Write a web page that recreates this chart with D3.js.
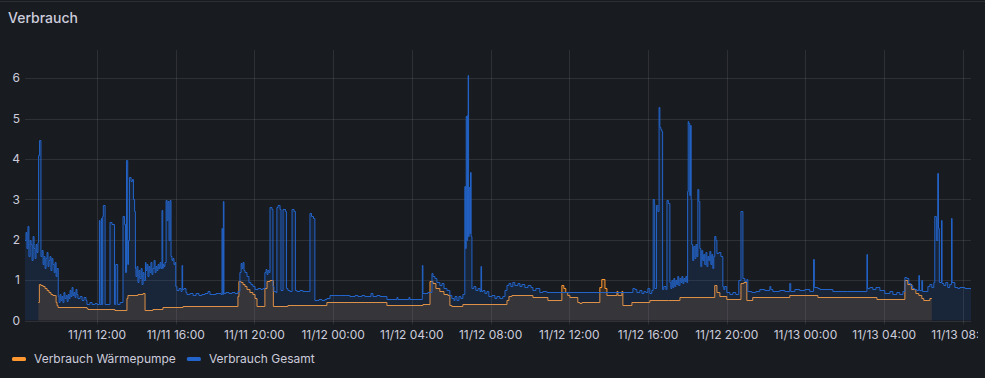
<!DOCTYPE html>
<html>
<head>
<meta charset="utf-8">
<script src="https://cdn.jsdelivr.net/npm/d3@7"></script>
<style>
  html, body { margin: 0; padding: 0; background: #181b1f; }
  svg { display: block; font-family: Inter, "Noto Sans", sans-serif; }
</style>
</head>
<body>
<svg id="chart"></svg>
<script>
// time values are hours since 11/11 00:00, power in kW
const baseDay = new Date(2023, 10, 11);
const timeRange = [8.34, 56.41];
const yTicks = [0, 1, 2, 3, 4, 5, 6];
const seriesNames = ["Verbrauch Wärmepumpe", "Verbrauch Gesamt"];

const waermepumpe = [
  [9.02,0.47],[9.07,0.9],[9.15,0.88],[9.26,0.85],[9.36,0.8],[9.46,0.75],[9.56,0.7],[9.66,0.66],[9.76,0.64],[9.87,0.62],
  [9.92,0.45],[9.97,0.38],[10.02,0.33],[11.49,0.3],[11.54,0.29],[12.91,0.25],[13.52,0.55],[13.57,0.62],[13.83,0.64],
  [14.08,0.66],[14.34,0.68],[14.44,0.25],[14.84,0.28],[15.35,0.33],[16.37,0.37],[19.16,0.6],[19.21,0.97],[19.32,0.95],
  [19.42,0.9],[19.52,0.85],[19.62,0.77],[19.77,0.7],[19.92,0.65],[20.03,0.55],[20.13,0.35],[20.53,0.8],[20.64,0.97],
  [20.79,1.0],[20.96,0.35],[21.70,0.38],[23.68,0.45],[26.73,0.38],[28.56,0.42],[28.92,0.97],[29.07,0.92],[29.22,0.8],
  [29.42,0.72],[29.63,0.66],[29.83,0.64],[29.93,0.39],[30.03,0.37],[30.59,0.4],[32.83,0.52],[32.93,0.6],[33.08,0.64],
  [34.15,0.58],[34.91,0.52],[35.62,0.88],[35.72,0.8],[35.82,0.7],[35.92,0.62],[36.03,0.58],[36.43,0.47],[36.54,0.43],
  [36.64,0.45],[37.55,0.82],[37.65,1.04],[37.81,0.8],[37.91,0.64],[38.42,0.72],[38.47,0.64],[38.67,0.72],[38.72,0.39],
  [39.18,0.45],[40.09,0.5],[41.03,0.52],[41.62,0.57],[43.39,0.89],[43.50,0.7],[43.65,0.6],[44.00,0.53],[44.72,0.92],
  [44.87,0.96],[45.02,0.5],[45.32,0.57],[47.20,0.64],[48.63,0.59],[51.63,0.54],[53.05,1.0],[53.20,0.9],[53.40,0.77],
  [53.61,0.69],[53.76,0.63],[53.91,0.56],[54.01,0.51],[54.32,0.56],[54.42,0.56]
];

const gesamt = [
  [8.34,2.0],[8.39,2.2],[8.44,1.8],[8.49,2.35],[8.54,1.6],[8.60,2.0],[8.65,1.9],[8.70,1.5],[8.75,2.1],[8.80,1.8],
  [8.85,1.55],[8.90,1.9],[8.95,1.7],[9.00,1.95],[9.03,4.1],[9.08,4.47],[9.15,1.6],
  [9.21,1.75],[9.26,1.4],[9.31,1.6],[9.36,1.3],[9.41,1.55],[9.46,1.7],[9.51,1.35],[9.56,1.5],[9.61,1.6],[9.66,1.25],
  [9.71,1.55],[9.76,1.4],[9.82,1.2],[9.87,1.45],[9.92,1.1],[9.97,1.3],
  [10.03,0.6],[10.07,0.45],[10.12,0.65],[10.17,0.5],[10.22,0.6],[10.27,0.45],[10.32,0.7],[10.37,0.55],[10.43,0.62],
  [10.48,0.48],[10.53,0.66],[10.58,0.55],[10.63,0.75],[10.68,0.6],[10.73,0.82],[10.78,0.62],[10.83,0.7],[10.88,0.58],
  [10.93,0.78],[10.98,0.65],[11.03,0.55],[11.14,0.6],[11.24,0.52],[11.34,0.58],[11.44,0.5],[11.49,0.42],[11.64,0.45],
  [11.75,0.4],[11.90,0.43],[12.00,0.4],
  [12.12,2.5],[12.15,0.42],[12.22,2.55],[12.25,0.42],[12.29,2.6],[12.32,2.85],[12.41,0.42],[12.66,2.45],[12.76,2.38],
  [12.89,0.42],[12.95,1.4],[13.05,0.42],[13.17,0.45],
  [13.32,2.6],[13.40,2.4],[13.45,1.2],[13.50,3.98],[13.56,1.4],[13.60,2.0],[13.65,3.55],[13.73,3.45],[13.80,3.5],
  [13.85,3.0],[13.91,2.7],[13.95,1.3],
  [13.98,1.1],[14.03,1.35],[14.08,0.95],[14.13,1.25],[14.18,1.05],[14.24,1.3],[14.29,0.9],[14.34,1.2],[14.39,1.0],
  [14.46,1.45],[14.49,1.25],[14.54,1.4],[14.59,1.1],[14.64,1.35],[14.69,1.2],[14.74,1.45],[14.79,1.15],[14.84,1.3],
  [14.90,1.5],[14.95,1.2],[15.00,1.35],[15.05,1.25],[15.10,1.4],[15.15,1.3],[15.20,1.45],[15.25,1.3],[15.30,2.74],
  [15.34,1.3],[15.36,1.4],[15.40,1.35],[15.45,1.45],[15.51,2.98],[15.56,2.5],[15.61,2.95],[15.66,2.0],[15.71,2.98],
  [15.76,1.6],[15.81,1.5],[15.86,1.55],[15.91,1.4],[15.96,1.45],
  [16.00,0.85],[16.06,0.75],[16.17,0.8],[16.27,0.72],[16.32,1.37],[16.35,0.78],[16.42,0.8],[16.52,0.7],[16.57,0.65],
  [16.72,0.68],[16.88,0.64],[17.03,0.67],[17.18,0.63],[17.33,0.66],[17.49,0.68],[17.64,0.72],[17.74,0.66],[17.89,0.65],
  [18.05,0.68],[18.20,0.67],[18.30,0.66],[18.35,2.3],[18.39,0.66],[18.42,2.96],[18.45,0.68],[18.55,0.7],[18.71,0.68],
  [18.86,0.7],[19.01,0.69],[19.16,0.72],
  [19.26,1.2],[19.32,1.42],[19.37,1.3],[19.42,1.45],[19.47,1.25],[19.52,1.2],[19.62,1.1],[19.72,0.95],[19.82,0.9],
  [19.92,0.85],[20.03,0.78],[20.18,0.8],[20.33,0.77],[20.43,0.8],
  [20.53,1.2],[20.59,1.27],[20.64,1.15],[20.69,1.25],[20.74,1.2],[20.79,2.8],[20.89,2.75],[20.94,0.85],[20.99,0.72],
  [21.09,0.7],[21.14,2.8],[21.20,2.85],[21.30,2.75],[21.35,0.75],[21.45,2.75],[21.58,2.7],[21.63,0.8],[21.70,0.76],
  [21.80,0.73],[21.91,2.75],[22.01,2.7],[22.08,0.75],[22.16,0.72],[22.31,0.75],[22.46,0.74],[22.62,0.73],[22.77,0.72],
  [22.82,2.67],[22.90,2.6],[23.00,2.53],[23.07,0.52],
  [23.28,0.53],[23.43,0.52],[23.58,0.53],[23.68,0.56],[23.84,0.64],[24.09,0.63],[24.34,0.64],[24.60,0.62],[24.85,0.6],
  [25.11,0.62],[25.26,0.6],[25.46,0.63],[25.61,0.6],[25.92,0.67],[26.02,0.6],[26.22,0.62],[26.38,0.6],[26.53,0.61],
  [26.73,0.53],[27.24,0.58],[27.29,0.53],[27.85,0.58],[27.90,0.53],
  [28.53,1.38],[28.56,0.67],[28.81,0.7],[29.02,1.18],[29.07,1.1],[29.17,1.05],[29.27,0.95],[29.42,0.88],[29.53,0.93],
  [29.63,0.8],[29.78,0.75],[29.93,0.62],[30.03,0.55],[30.14,0.5],[30.19,0.6],[30.29,0.52],[30.39,0.6],[30.49,0.55],
  [30.59,0.65],
  [30.69,3.33],[30.73,1.8],[30.76,5.07],[30.80,2.0],[30.83,5.1],[30.86,6.07],[30.88,2.1],[30.91,3.3],[30.95,2.17],
  [30.98,3.68],[31.01,2.1],[31.05,0.8],
  [31.15,0.85],[31.25,0.75],[31.36,0.8],[31.46,0.74],[31.51,1.34],[31.54,0.72],[31.61,0.75],[31.71,0.68],[31.81,0.72],
  [31.91,0.6],[32.07,0.63],[32.22,0.55],[32.32,0.6],[32.47,0.56],[32.62,0.6],
  [32.73,0.75],[32.83,0.88],[32.93,0.92],[33.03,0.85],[33.13,0.95],[33.23,0.88],[33.39,0.92],[33.49,0.85],[33.59,0.9],
  [33.74,0.83],[33.90,0.88],[34.05,0.82],[34.15,0.75],[34.30,0.8],[34.50,0.7],[34.66,0.72],[34.86,0.71],
  [39.23,0.8],[39.33,0.78],[39.43,0.7],[39.58,0.75],[39.69,0.68],[39.79,0.74],[39.89,0.7],[39.99,0.8],[40.09,0.68],
  [40.19,0.75],
  [40.26,3.0],[40.32,2.9],[40.34,0.8],[40.43,2.85],[40.50,2.7],[40.56,5.28],[40.60,4.8],[40.65,4.75],[40.70,4.7],
  [40.74,0.78],[40.80,0.85],[40.91,0.78],[40.96,2.98],[41.03,2.9],[41.11,0.95],
  [41.16,0.8],[41.21,1.0],[41.26,0.82],[41.31,1.05],[41.36,0.85],[41.41,1.0],[41.46,0.9],[41.51,1.1],[41.56,0.88],
  [41.62,1.05],[41.67,0.95],[41.72,1.1],[41.77,0.92],[41.82,1.05],[41.87,0.98],[41.92,1.1],[41.97,0.96],
  [42.01,3.2],[42.04,4.95],[42.07,4.88],[42.12,3.1],[42.16,4.85],[42.19,3.0],[42.22,1.9],[42.27,1.5],[42.32,1.85],
  [42.38,1.55],[42.43,1.9],[42.48,1.6],[42.53,3.26],[42.58,2.96],[42.63,1.8],[42.68,1.35],[42.73,1.75],[42.78,1.5],
  [42.83,1.65],[42.88,1.4],[42.94,1.7],[42.99,1.35],[43.04,1.6],[43.09,1.5],[43.14,1.72],[43.19,1.4],[43.24,1.65],
  [43.29,1.3],[43.34,1.6],[43.39,2.1],[43.45,2.0],[43.50,1.67],[43.60,1.7],[43.70,1.6],
  [43.80,0.85],[43.85,0.78],[43.90,0.85],[44.00,0.7],[44.16,0.66],[44.31,0.7],[44.46,0.66],[44.61,1.0],[44.72,2.71],
  [44.82,1.05],[44.92,0.98],[45.02,1.03],[45.07,0.72],[45.27,0.7],[45.48,0.72],[45.68,0.78],[45.93,0.76],[46.19,0.86],
  [46.24,0.78],[46.34,0.72],[46.69,0.75],[46.95,0.72],[47.20,0.92],[47.25,0.74],[47.46,0.78],[47.71,0.75],[47.97,0.77],
  [48.22,0.74],
  [48.41,1.52],[48.45,0.84],[48.63,0.8],[48.73,0.78],[49.39,0.72],[50.15,0.74],[51.12,1.64],[51.15,0.8],[51.27,0.84],
  [51.42,0.78],[51.58,0.82],[51.78,0.76],[52.03,0.68],[52.29,0.72],[52.44,0.66],[52.64,0.7],[52.79,0.66],[52.95,0.72],
  [53.05,1.08],[53.15,1.05],[53.25,0.92],[53.35,0.88],[53.45,0.8],[53.55,0.78],[53.66,0.75],[53.76,1.12],[53.79,0.75],
  [53.91,1.0],[53.95,0.72],[54.12,0.74],[54.22,0.85],[54.32,0.9],[54.42,0.82],[54.52,0.95],
  [54.57,2.58],[54.65,2.0],[54.72,3.65],[54.76,2.3],[54.80,0.96],[54.91,2.5],[54.94,0.92],[55.03,0.88],[55.13,0.95],
  [55.23,0.84],[55.33,0.9],[55.42,2.54],[55.45,0.95],[55.59,0.84],[55.74,0.8],[55.84,0.82],[56.10,0.8],[56.41,0.8]
];

const colors = ["#FF9830", "#2364CA"];

const width = 985, height = 378;
const plot = {left: 25, right: 971, top: 50, bottom: 320.5};

const toDate = h => new Date(baseDay.getTime() + h * 3600e3);

const svg = d3.select("#chart")
  .attr("width", width)
  .attr("height", height);

// the x labels are cut where the plot canvas ends
svg.append("defs").append("clipPath")
  .attr("id", "xlabel-clip")
  .append("rect")
  .attr("x", 0).attr("y", 320)
  .attr("width", 978).attr("height", 30);

// panel border + title
svg.append("line")
  .attr("x1", 0).attr("x2", width)
  .attr("y1", 1.5).attr("y2", 1.5)
  .attr("stroke", "#2c2f35");

svg.append("text")
  .attr("x", 8).attr("y", 23)
  .attr("fill", "#ccccdc")
  .style("font-size", "14px")
  .style("font-weight", 500)
  .text("Verbrauch");

const x = d3.scaleTime()
  .domain(timeRange.map(toDate))
  .range([plot.left, plot.right]);

const y = d3.scaleLinear()
  .domain([0, 6.7])
  .range([plot.bottom, plot.top]);

const gridColor = "rgba(204,204,220,0.12)";
const xTicks = x.ticks(d3.timeHour.every(4));
const fmt = d3.timeFormat("%m/%d %H:%M");

// grid
svg.append("g").selectAll("line")
  .data(yTicks)
  .join("line")
  .attr("x1", plot.left).attr("x2", plot.right)
  .attr("y1", d => Math.round(y(d)) + 0.5)
  .attr("y2", d => Math.round(y(d)) + 0.5)
  .attr("stroke", gridColor);

svg.append("g").selectAll("line")
  .data(xTicks)
  .join("line")
  .attr("x1", d => Math.round(x(d)) + 0.5)
  .attr("x2", d => Math.round(x(d)) + 0.5)
  .attr("y1", plot.top).attr("y2", plot.bottom + 4)
  .attr("stroke", gridColor);

// axis labels
svg.append("g").selectAll("text")
  .data(yTicks)
  .join("text")
  .attr("x", 20)
  .attr("y", d => y(d))
  .attr("dy", "0.35em")
  .attr("text-anchor", "end")
  .attr("fill", "#ccccdc")
  .style("font-size", "12px")
  .text(d => d);

svg.append("g")
  .attr("clip-path", "url(#xlabel-clip)")
  .selectAll("text")
  .data(xTicks)
  .join("text")
  .attr("x", d => x(d))
  .attr("y", 339)
  .attr("text-anchor", "middle")
  .attr("fill", "#ccccdc")
  .style("font-size", "12px")
  .text(d => fmt(d));

// series: Wärmepumpe first, Gesamt drawn over it (flat steps snapped to pixel rows)
const px = d => x(toDate(d[0]));
const py = d => Math.round(y(d[1])) + 0.5;

const area = d3.area()
  .curve(d3.curveStepAfter)
  .x(px)
  .y0(y(0))
  .y1(py);

const line = d3.line()
  .curve(d3.curveStepAfter)
  .x(px)
  .y(py);

[waermepumpe, gesamt].forEach((series, i) => {
  const g = svg.append("g");
  g.append("path")
    .datum(series)
    .attr("d", area)
    .attr("fill", colors[i])
    .attr("fill-opacity", 0.15);
  g.append("path")
    .datum(series)
    .attr("d", line)
    .attr("fill", "none")
    .attr("stroke", colors[i])
    .attr("stroke-width", 1);
});

// legend
const legend = svg.append("g").attr("transform", "translate(12,359)");
let lx = 0;
seriesNames.forEach((name, i) => {
  const item = legend.append("g").attr("transform", `translate(${lx},0)`);
  item.append("rect")
    .attr("x", 0).attr("y", -2)
    .attr("width", 14).attr("height", 4)
    .attr("rx", 1.5)
    .attr("fill", colors[i]);
  const t = item.append("text")
    .attr("x", 22)
    .attr("dy", "0.35em")
    .attr("fill", "#ccccdc")
    .style("font-size", "12px")
    .text(name);
  lx += 22 + t.node().getComputedTextLength() + 11;
});
</script>
</body>
</html>
